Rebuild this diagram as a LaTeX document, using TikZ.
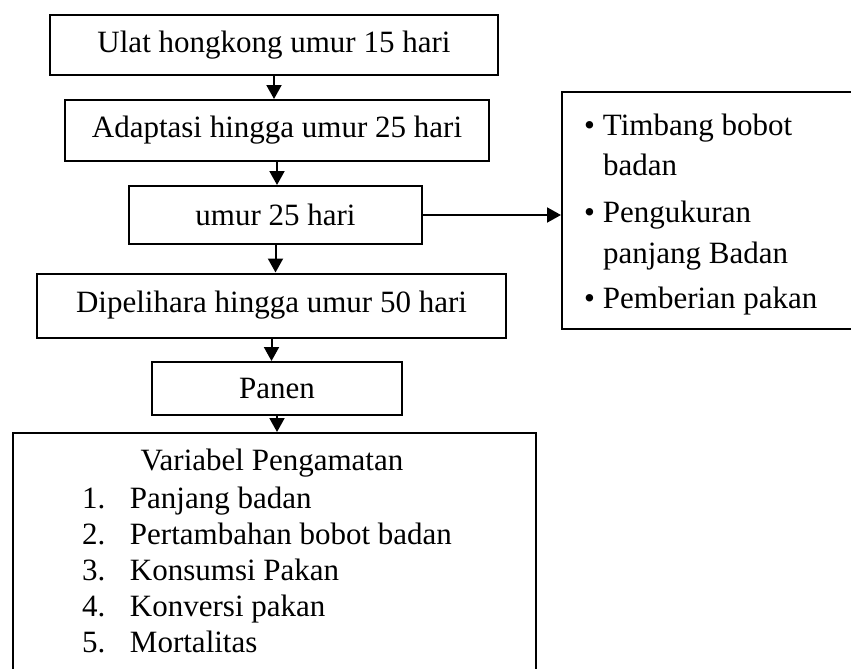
\documentclass[tikz,border=0pt]{standalone}
\usepackage{fontspec}
\setmainfont{Liberation Serif}
\usetikzlibrary{arrows.meta}

\begin{document}
\begin{tikzpicture}[x=1pt,y=-1pt,>={Triangle[length=14pt,width=15pt]},line width=2pt,
                    flow box/.style={draw,rectangle,inner sep=0pt,font=\fontsize{31}{37}\selectfont},
                    list line/.style={anchor=base west,inner sep=0pt,font=\fontsize{31}{37}\selectfont}]
  \useasboundingbox (0,0) rectangle (851,669);

  \node[flow box,minimum width=448,minimum height=60] (s1) at (274,45) {Ulat hongkong umur 15 hari};
  \node[flow box,minimum width=424,minimum height=61] (s2) at (277,130.5) {Adaptasi hingga umur 25 hari};
  \node[flow box,minimum width=293,minimum height=58] (s3) at (275.5,215) {umur 25 hari};
  \node[flow box,minimum width=469,minimum height=64] (s4) at (271.5,305.5) {Dipelihara hingga umur 50 hari};
  \node[flow box,minimum width=250,minimum height=53] (s5) at (277,388.5) {Panen};

  % observed variables, box runs past the bottom edge
  \node[flow box,anchor=north west,minimum width=523,minimum height=260] (obs) at (12,432) {};
  \node[flow box,draw=none] (obs title) at (272,463) {Variabel Pengamatan};
  \node[list line] (v1) at (81,508) {\makebox[48pt][l]{1.}Panjang badan};
  \node[list line] (v2) at (81,544) {\makebox[48pt][l]{2.}Pertambahan bobot badan};
  \node[list line] (v3) at (81,580) {\makebox[48pt][l]{3.}Konsumsi Pakan};
  \node[list line] (v4) at (81,616) {\makebox[48pt][l]{4.}Konversi pakan};
  \node[list line] (v5) at (81,652) {\makebox[48pt][l]{5.}Mortalitas};

  % activities, box runs past the right edge
  \node[flow box,anchor=north west,minimum width=300,minimum height=237] (act) at (561,91) {};
  \node[list line] (a1) at (583,135) {\makebox[19pt][l]{\textbullet}Timbang bobot};
  \node[list line] (a1b) at (602,175) {badan};
  \node[list line] (a2) at (583,222) {\makebox[19pt][l]{\textbullet}Pengukuran};
  \node[list line] (a2b) at (602,263) {panjang Badan};
  \node[list line] (a3) at (583,308) {\makebox[19pt][l]{\textbullet}Pemberian pakan};

  \draw[->] (s1.south) -- (s1.south |- s2.north);
  \draw[->] (s2.south) -- (s2.south |- s3.north);
  \draw[->] (s3.south) -- (s3.south |- s4.north);
  \draw[->] (s4.south) -- (s4.south |- s5.north);
  \draw[->] (s5.south) -- (s5.south |- obs.north);
  \draw[->] (s3.east) -- (s3.east -| act.west);
\end{tikzpicture}
\end{document}
